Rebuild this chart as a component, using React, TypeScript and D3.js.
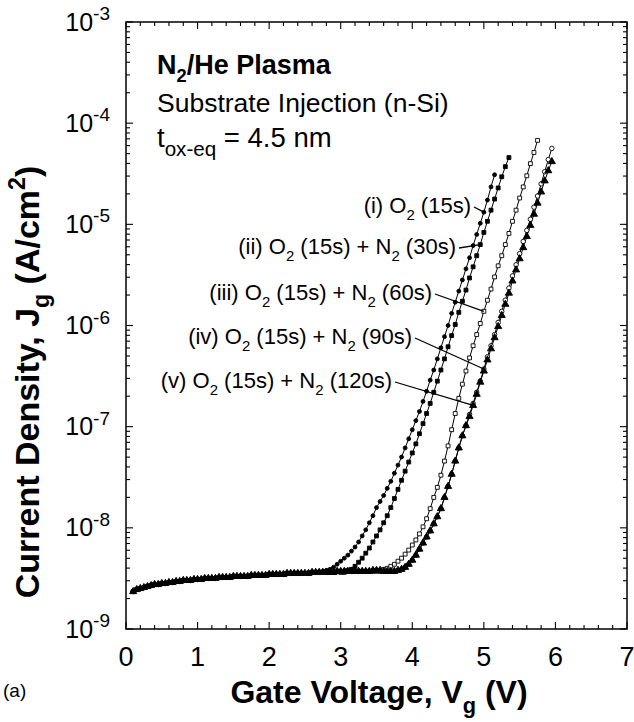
import React from 'react';
import * as d3 from 'd3';

// Gate sweep used for every curve (V)
const VG_START = 0.1;
const VG_STEP = 0.05;

// Axis ticks
const X_TICKS = [0, 1, 2, 3, 4, 5, 6, 7];
const Y_DECADES = [-9, -8, -7, -6, -5, -4, -3];

// log10 of Jg (A/cm^2) in the low-field region, 0.10 V ... 3.55 V, where the curves coincide
const FLOOR_LOG_J = [
  -8.63, -8.61, -8.6, -8.59, -8.58, -8.57, -8.56, -8.56, -8.55, -8.55,
  -8.54, -8.54, -8.53, -8.53, -8.52, -8.52, -8.52, -8.51, -8.51, -8.51,
  -8.5, -8.5, -8.5, -8.5, -8.49, -8.49, -8.49, -8.49, -8.48, -8.48,
  -8.48, -8.48, -8.48, -8.47, -8.47, -8.47, -8.47, -8.47, -8.46, -8.46,
  -8.46, -8.46, -8.46, -8.45, -8.45, -8.45, -8.45, -8.45, -8.45, -8.45,
  -8.44, -8.44, -8.44, -8.44, -8.44, -8.44, -8.44, -8.43, -8.43, -8.43,
  -8.43, -8.43, -8.43, -8.43, -8.43, -8.43, -8.43, -8.42, -8.42, -8.42,
];

// (i) O2 (15s): from 2.65 V
const RISE_I = [
  -8.44, -8.44, -8.43, -8.42, -8.41, -8.39, -8.36, -8.33, -8.3, -8.27,
  -8.23, -8.19, -8.14, -8.08, -8.02, -7.95, -7.88, -7.8, -7.74, -7.68,
  -7.61, -7.54, -7.46, -7.38, -7.3, -7.21, -7.12, -7.03, -6.94, -6.85,
  -6.75, -6.65, -6.54, -6.44, -6.33, -6.22, -6.11, -6.0, -5.88, -5.77,
  -5.66, -5.55, -5.44, -5.33, -5.21, -5.1, -4.99, -4.88, -4.76, -4.63,
  -4.51,
];

// (ii) O2 (15s) + N2 (30s): from 3.00 V
const RISE_II = [
  -8.44, -8.44, -8.42, -8.41, -8.38, -8.34, -8.3, -8.25, -8.2, -8.14,
  -8.08, -8.02, -7.95, -7.88, -7.8, -7.71, -7.62, -7.53, -7.44, -7.35,
  -7.26, -7.17, -7.07, -6.97, -6.87, -6.77, -6.66, -6.55, -6.44, -6.33,
  -6.21, -6.1, -5.99, -5.87, -5.76, -5.65, -5.53, -5.42, -5.31, -5.2,
  -5.08, -4.97, -4.86, -4.75, -4.64, -4.53, -4.43, -4.34,
];

// (iii) O2 (15s) + N2 (60s): from 3.35 V
const RISE_III = [
  -8.43, -8.43, -8.43, -8.43, -8.43, -8.41, -8.4, -8.38, -8.36, -8.33,
  -8.3, -8.26, -8.22, -8.17, -8.12, -8.06, -7.99, -7.91, -7.81, -7.7,
  -7.6, -7.48, -7.34, -7.19, -7.03, -6.87, -6.72, -6.58, -6.45, -6.32,
  -6.2, -6.09, -5.98, -5.86, -5.75, -5.64, -5.52, -5.41, -5.31, -5.2,
  -5.09, -4.97, -4.86, -4.74, -4.63, -4.52, -4.4, -4.29, -4.17,
];

// (iv) O2 (15s) + N2 (90s): from 3.60 V
const RISE_IV = [
  -8.43, -8.43, -8.43, -8.43, -8.42, -8.41, -8.39, -8.36, -8.32, -8.27,
  -8.21, -8.15, -8.09, -8.03, -7.96, -7.89, -7.81, -7.7, -7.59, -7.47,
  -7.34, -7.21, -7.09, -6.99, -6.88, -6.77, -6.66, -6.55, -6.43, -6.31,
  -6.2, -6.09, -5.97, -5.86, -5.75, -5.63, -5.51, -5.4, -5.29, -5.17,
  -5.06, -4.95, -4.83, -4.72, -4.6, -4.48, -4.36, -4.25,
];

// (v) O2 (15s) + N2 (120s): from 3.60 V
const RISE_V = [
  -8.43, -8.43, -8.43, -8.43, -8.42, -8.41, -8.39, -8.36, -8.32, -8.27,
  -8.21, -8.15, -8.09, -8.03, -7.96, -7.89, -7.81, -7.7, -7.59, -7.47,
  -7.34, -7.21, -7.09, -6.99, -6.9, -6.79, -6.68, -6.56, -6.45, -6.34,
  -6.23, -6.12, -6.01, -5.9, -5.79, -5.68, -5.56, -5.45, -5.34, -5.23,
  -5.12, -5.01, -4.9, -4.79, -4.68, -4.57, -4.47, -4.38,
];

// Number of low-field points each curve shares before it rises
const FLOOR_COUNT = [51, 58, 65, 70, 70];

type Seg = { t: string; s?: 'sub' | 'sup' };

const SERIES_LABELS: Seg[][] = [
  [{ t: '(i) O' }, { t: '2', s: 'sub' }, { t: ' (15s)' }],
  [{ t: '(ii) O' }, { t: '2', s: 'sub' }, { t: ' (15s) + N' }, { t: '2', s: 'sub' }, { t: ' (30s)' }],
  [{ t: '(iii) O' }, { t: '2', s: 'sub' }, { t: ' (15s) + N' }, { t: '2', s: 'sub' }, { t: ' (60s)' }],
  [{ t: '(iv) O' }, { t: '2', s: 'sub' }, { t: ' (15s) + N' }, { t: '2', s: 'sub' }, { t: ' (90s)' }],
  [{ t: '(v) O' }, { t: '2', s: 'sub' }, { t: ' (15s) + N' }, { t: '2', s: 'sub' }, { t: ' (120s)' }],
];

// Gate voltage on each curve that its label points to
const LABEL_TARGET_V = [5.0, 4.95, 5.0, 5.0, 4.85];

const RISES = [RISE_I, RISE_II, RISE_III, RISE_IV, RISE_V];

type Marker = 'filledCircle' | 'filledSquare' | 'openSquare' | 'openCircle' | 'filledTriangle';
const MARKERS: Marker[] = ['filledCircle', 'filledSquare', 'openSquare', 'openCircle', 'filledTriangle'];

const W = 634;
const H = 722;
const PLOT = { left: 126, right: 627, top: 22, bottom: 629 };
const FONT = "'Liberation Sans', Arial, Helvetica, sans-serif";

// label layout: text end x, baseline y
const LABEL_POS = [
  [471, 213],
  [456, 254],
  [432, 300],
  [412, 344],
  [392, 388],
];

function Rich({ segs, x, y, size, anchor = 'start', weight = 'normal', transform, small = 0.68, subShift = 0.3, supShift = 0.42 }:
  { segs: Seg[]; x: number; y: number; size: number; anchor?: string; weight?: string; transform?: string; small?: number; subShift?: number; supShift?: number }) {
  let shift = 0;
  const spans = segs.map((sg, i) => {
    const target = sg.s === 'sub' ? subShift : sg.s === 'sup' ? -supShift : 0;
    const dy = (target - shift) * size;
    shift = target;
    return (
      <tspan key={i} dy={dy} fontSize={sg.s ? size * small : size}>
        {sg.t}
      </tspan>
    );
  });
  return (
    <text x={x} y={y} textAnchor={anchor} fontFamily={FONT} fontWeight={weight} fontSize={size} fill="#000" transform={transform}>
      {spans}
    </text>
  );
}

export default function App() {
  const x = d3.scaleLinear().domain([0, 7]).range([PLOT.left, PLOT.right]);
  const y = d3.scaleLog().domain([1e-9, 1e-3]).range([PLOT.bottom, PLOT.top]);

  const series = RISES.map((rise, k) => {
    const logs = [...FLOOR_LOG_J.slice(0, FLOOR_COUNT[k]), ...rise];
    return logs.map((l, i) => ({ v: VG_START + i * VG_STEP, j: Math.pow(10, l) }));
  });

  const line = d3
    .line<{ v: number; j: number }>()
    .x((d) => x(d.v))
    .y((d) => y(d.j));

  const sym = (m: Marker) => {
    switch (m) {
      case 'filledCircle':
        return { d: d3.symbol().type(d3.symbolCircle).size(12)()!, fill: '#000' };
      case 'filledSquare':
        return { d: d3.symbol().type(d3.symbolSquare).size(15)()!, fill: '#000' };
      case 'openSquare':
        return { d: d3.symbol().type(d3.symbolSquare).size(15)()!, fill: '#fff' };
      case 'openCircle':
        return { d: d3.symbol().type(d3.symbolCircle).size(16)()!, fill: '#fff' };
      default:
        return { d: d3.symbol().type(d3.symbolTriangle).size(22)()!, fill: '#000' };
    }
  };

  // ticks
  const yMajor = Y_DECADES.map((e) => Math.pow(10, e));
  const yMinor: number[] = [];
  Y_DECADES.slice(0, -1).forEach((e) => {
    for (let m = 2; m <= 9; m++) yMinor.push(m * Math.pow(10, e));
  });
  const xMinor: number[] = [];
  for (let i = 0; i < 7; i++) for (let m = 1; m <= 4; m++) xMinor.push(i + m * 0.2);

  const MAJ = 7;
  const MIN = 4;

  return (
    <svg width={W} height={H} viewBox={`0 0 ${W} ${H}`} style={{ position: 'absolute', left: 0, top: 0, background: '#fff' }}>
      <rect x={0} y={0} width={W} height={H} fill="#fff" />

      {/* frame */}
      <rect x={PLOT.left} y={PLOT.top} width={PLOT.right - PLOT.left} height={PLOT.bottom - PLOT.top} fill="none" stroke="#000" strokeWidth={1.5} />

      {/* ticks on all four sides, pointing inward */}
      <g stroke="#000" strokeWidth={1.1}>
        {yMajor.map((t, i) => (
          <g key={'ym' + i}>
            <line x1={PLOT.left} x2={PLOT.left + MAJ} y1={y(t)} y2={y(t)} />
            <line x1={PLOT.right} x2={PLOT.right - MAJ} y1={y(t)} y2={y(t)} />
          </g>
        ))}
        {yMinor.map((t, i) => (
          <g key={'yn' + i}>
            <line x1={PLOT.left} x2={PLOT.left + MIN} y1={y(t)} y2={y(t)} />
            <line x1={PLOT.right} x2={PLOT.right - MIN} y1={y(t)} y2={y(t)} />
          </g>
        ))}
        {X_TICKS.map((t, i) => (
          <g key={'xm' + i}>
            <line x1={x(t)} x2={x(t)} y1={PLOT.bottom} y2={PLOT.bottom - MAJ} />
            <line x1={x(t)} x2={x(t)} y1={PLOT.top} y2={PLOT.top + MAJ} />
          </g>
        ))}
        {xMinor.map((t, i) => (
          <g key={'xn' + i}>
            <line x1={x(t)} x2={x(t)} y1={PLOT.bottom} y2={PLOT.bottom - MIN} />
            <line x1={x(t)} x2={x(t)} y1={PLOT.top} y2={PLOT.top + MIN} />
          </g>
        ))}
      </g>

      {/* y tick labels */}
      {Y_DECADES.map((e) => (
        <Rich key={'yl' + e} segs={[{ t: '10' }, { t: String(e), s: 'sup' }]} x={110} y={y(Math.pow(10, e)) + 8.5} size={25} anchor="end" small={0.76} supShift={0.42} />
      ))}

      {/* x tick labels */}
      {X_TICKS.map((t) => (
        <text key={'xl' + t} x={x(t)} y={666} textAnchor="middle" fontFamily={FONT} fontSize={27} fill="#000">
          {t}
        </text>
      ))}

      {/* curves */}
      {series.map((s, k) => (
        <path key={'c' + k} d={line(s) ?? ''} fill="none" stroke="#000" strokeWidth={1} />
      ))}
      {series.map((s, k) => {
        const m = sym(MARKERS[k]);
        return (
          <g key={'m' + k}>
            {s.map((d, i) => (
              <path key={i} d={m.d} transform={`translate(${x(d.v)},${y(d.j)})`} fill={m.fill} stroke="#000" strokeWidth={0.9} />
            ))}
          </g>
        );
      })}

      {/* curve labels with leaders */}
      {SERIES_LABELS.map((segs, k) => {
        const [tx, ty] = LABEL_POS[k];
        const s = series[k];
        const target = s.reduce((a, b) => (Math.abs(b.v - LABEL_TARGET_V[k]) < Math.abs(a.v - LABEL_TARGET_V[k]) ? b : a));
        return (
          <g key={'lab' + k}>
            <Rich segs={segs} x={tx} y={ty} size={22} anchor="end" />
            <line x1={tx + 3} y1={ty - 6} x2={x(target.v)} y2={y(target.j)} stroke="#000" strokeWidth={1.3} />
          </g>
        );
      })}

      {/* title block */}
      <Rich segs={[{ t: 'N' }, { t: '2', s: 'sub' }, { t: '/He Plasma' }]} x={157} y={74} size={27} weight="bold" />
      <Rich segs={[{ t: 'Substrate Injection (n-Si)' }]} x={157} y={112} size={26.5} />
      <Rich segs={[{ t: 't' }, { t: 'ox-eq', s: 'sub' }, { t: ' = 4.5 nm' }]} x={157} y={147} size={27.5} small={0.75} subShift={0.32} />

      {/* axis titles */}
      <Rich segs={[{ t: 'Gate Voltage, V' }, { t: 'g', s: 'sub' }, { t: ' (V)' }]} x={379} y={703} size={32} anchor="middle" weight="bold" />
      <Rich
        segs={[{ t: 'Current Density, J' }, { t: 'g', s: 'sub' }, { t: ' (A/cm' }, { t: '2', s: 'sup' }, { t: ')' }]}
        x={0}
        y={0}
        size={34}
        anchor="middle"
        weight="bold"
        transform={`translate(39, 382) rotate(-90)`}
      />

      <text x={3} y={697} fontFamily={FONT} fontSize={19} fill="#000">
        (a)
      </text>
    </svg>
  );
}
